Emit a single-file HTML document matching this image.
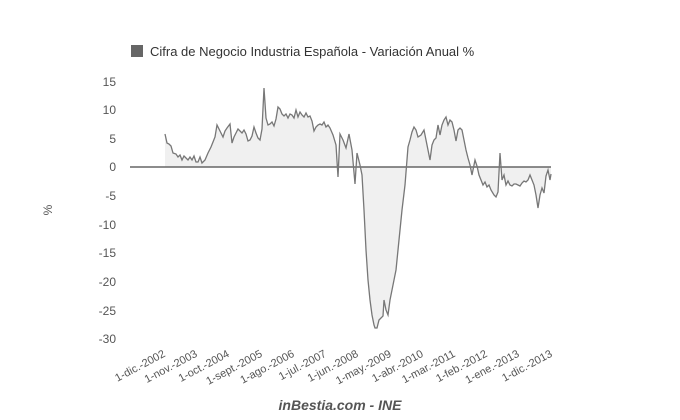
<!DOCTYPE html><html><head><meta charset="utf-8"><style>body{margin:0;background:#fff}svg{display:block;font-family:"Liberation Sans",Arial,sans-serif}</style></head><body>
<svg width="680" height="420" xmlns="http://www.w3.org/2000/svg">
<rect x="131" y="45" width="12" height="12" fill="#666"/>
<text x="150" y="56" font-size="13" fill="#333">Cifra de Negocio Industria Española - Variación Anual %</text>
<g font-size="12" fill="#555" text-anchor="end">
<text x="116" y="86">15</text><text x="116" y="114">10</text><text x="116" y="143">5</text><text x="116" y="171">0</text>
<text x="116" y="200">-5</text><text x="116" y="229">-10</text><text x="116" y="257">-15</text><text x="116" y="286">-20</text>
<text x="116" y="315">-25</text><text x="116" y="343">-30</text></g>
<text transform="translate(52,210) rotate(-90)" font-size="12" fill="#555" text-anchor="middle">%</text>
<polygon fill="#f0f0f0" points="165,167 165,134 167,143 169,144 171,146 173,153 176,154 178,157 180,155 182,160 184,156 186,158 188,160 190,157 192,160 194,156 196,162 198,162 200,157 202,163 205,160 208,153 211,147 213,142 215,137 217,125 220,131 223,137 225,131 227,128 230,124 232,143 234,137 236,133 238,129 240,131 242,133 244,130 246,134 248,141 250,140 252,136 254,127 256,133 258,138 260,140 262,129 264,88 266,118 268,125 270,124 272,122 274,126 276,119 278,107 280,109 282,114 284,116 286,114 288,118 290,114 292,115 294,118 296,110 298,117 300,112 302,115 304,117 306,113 308,117 310,116 312,121 314,131 316,127 318,125 320,124 322,125 324,122 326,127 328,125 330,128 333,135 336,145 338,177 340,134 343,140 346,148 349,134 352,150 355,184 357,153 360,165 362,175 364,210 366,250 368,280 370,300 372,315 374,325 375,328 377,328 379,320 381,318 383,316 384,300 386,310 388,315 390,300 392,290 394,280 396,270 398,250 400,230 402,210 405,185 408,147 410,140 412,132 414,127 416,130 418,137 421,135 424,130 426,140 428,150 430,160 432,145 434,140 436,138 438,125 440,135 442,125 444,120 446,117 448,125 450,120 452,122 454,130 456,141 458,130 460,128 462,130 464,140 466,150 468,158 470,165 472,175 475,160 477,166 479,175 481,180 483,185 485,182 487,187 489,185 491,190 494,195 496,197 498,192 500,153 502,180 504,175 506,185 508,181 510,185 512,186 514,184 516,184 518,185 520,186 522,183 524,181 526,182 528,180 530,175 532,180 534,185 536,195 538,208 540,195 542,188 544,193 546,176 548,170 550,180 551,174 551,167"/>
<line x1="130" y1="167" x2="551" y2="167" stroke="#666" stroke-width="1.5"/>
<polyline fill="none" stroke="#777" stroke-width="1.3" points="165,134 167,143 169,144 171,146 173,153 176,154 178,157 180,155 182,160 184,156 186,158 188,160 190,157 192,160 194,156 196,162 198,162 200,157 202,163 205,160 208,153 211,147 213,142 215,137 217,125 220,131 223,137 225,131 227,128 230,124 232,143 234,137 236,133 238,129 240,131 242,133 244,130 246,134 248,141 250,140 252,136 254,127 256,133 258,138 260,140 262,129 264,88 266,118 268,125 270,124 272,122 274,126 276,119 278,107 280,109 282,114 284,116 286,114 288,118 290,114 292,115 294,118 296,110 298,117 300,112 302,115 304,117 306,113 308,117 310,116 312,121 314,131 316,127 318,125 320,124 322,125 324,122 326,127 328,125 330,128 333,135 336,145 338,177 340,134 343,140 346,148 349,134 352,150 355,184 357,153 360,165 362,175 364,210 366,250 368,280 370,300 372,315 374,325 375,328 377,328 379,320 381,318 383,316 384,300 386,310 388,315 390,300 392,290 394,280 396,270 398,250 400,230 402,210 405,185 408,147 410,140 412,132 414,127 416,130 418,137 421,135 424,130 426,140 428,150 430,160 432,145 434,140 436,138 438,125 440,135 442,125 444,120 446,117 448,125 450,120 452,122 454,130 456,141 458,130 460,128 462,130 464,140 466,150 468,158 470,165 472,175 475,160 477,166 479,175 481,180 483,185 485,182 487,187 489,185 491,190 494,195 496,197 498,192 500,153 502,180 504,175 506,185 508,181 510,185 512,186 514,184 516,184 518,185 520,186 522,183 524,181 526,182 528,180 530,175 532,180 534,185 536,195 538,208 540,195 542,188 544,193 546,176 548,170 550,180 551,174"/>
<g font-size="11" fill="#555" text-anchor="end">
<text transform="translate(166,356) rotate(-28)">1-dic.-2002</text>
<text transform="translate(198,356) rotate(-28)">1-nov.-2003</text>
<text transform="translate(230,356) rotate(-28)">1-oct.-2004</text>
<text transform="translate(263,356) rotate(-28)">1-sept.-2005</text>
<text transform="translate(295,356) rotate(-28)">1-ago.-2006</text>
<text transform="translate(327,356) rotate(-28)">1-jul.-2007</text>
<text transform="translate(359,356) rotate(-28)">1-jun.-2008</text>
<text transform="translate(392,356) rotate(-28)">1-may.-2009</text>
<text transform="translate(424,356) rotate(-28)">1-abr.-2010</text>
<text transform="translate(456,356) rotate(-28)">1-mar.-2011</text>
<text transform="translate(488,356) rotate(-28)">1-feb.-2012</text>
<text transform="translate(520,356) rotate(-28)">1-ene.-2013</text>
<text transform="translate(553,356) rotate(-28)">1-dic.-2013</text></g>
<text x="340" y="410" font-size="14" font-weight="bold" font-style="italic" fill="#555" text-anchor="middle">inBestia.com - INE</text>
</svg></body></html>
